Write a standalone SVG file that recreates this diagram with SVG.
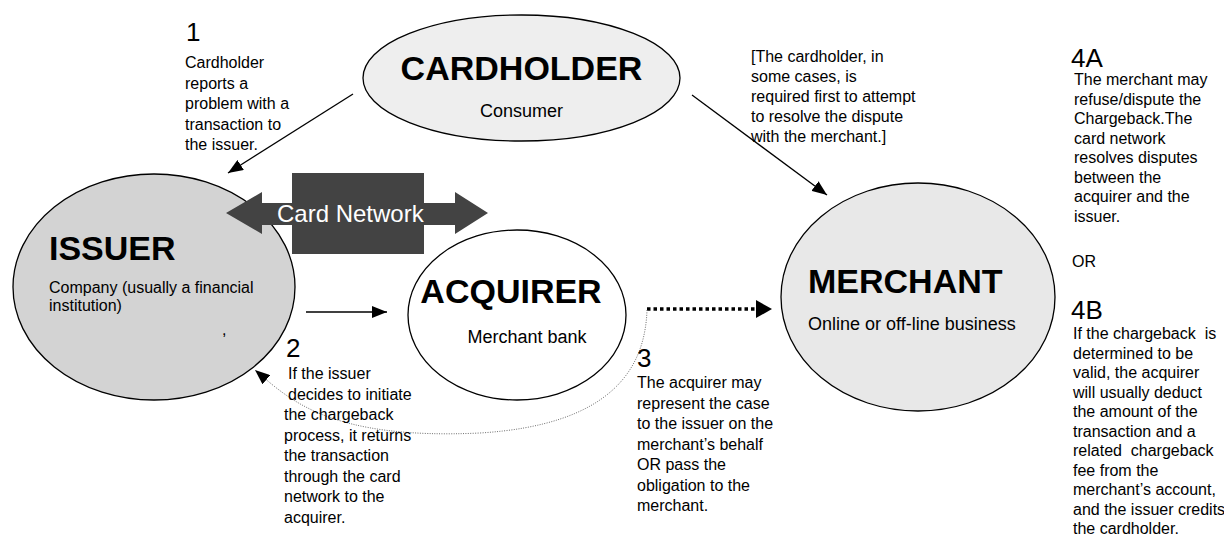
<svg xmlns="http://www.w3.org/2000/svg" width="1224" height="541" viewBox="0 0 1224 541">
  <style>
    text { font-family: "Liberation Sans", Arial, sans-serif; fill: #000; }
    .title { font-size: 34px; font-weight: bold; }
    .sub { font-size: 18px; }
    .note { font-size: 16px; }
    .num { font-size: 26px; }
    .pre { white-space: pre; }
    .node { stroke: #000; stroke-width: 1.3; }
    .link { fill: none; stroke: #000; stroke-width: 1.3; }
    .dots { fill: none; stroke: #000; stroke-width: 3.5; stroke-dasharray: 3.5 3; }
    .fine { fill: none; stroke: #6e6e6e; stroke-width: 1; stroke-dasharray: 1 1.4; }
  </style>
  <defs>
    <marker id="head" markerUnits="userSpaceOnUse" markerWidth="15" markerHeight="12" refX="15" refY="6" orient="auto">
      <path d="M0,0 L15,6 L0,12 z" fill="#000"/>
    </marker>
  </defs>

  <!-- Cardholder -->
  <g id="cardholder">
    <ellipse class="node" cx="521.5" cy="78" rx="158.5" ry="63" fill="#eeeeee"/>
    <text class="title" x="521.5" y="80" text-anchor="middle">CARDHOLDER</text>
    <text class="sub" x="521.5" y="117" text-anchor="middle">Consumer</text>
  </g>

  <!-- Issuer -->
  <g id="issuer">
    <ellipse class="node" cx="154" cy="287" rx="141" ry="113" fill="#d3d3d3"/>
    <text class="title" x="49" y="260">ISSUER</text>
    <text class="note" x="49" y="293">Company (usually a financial</text>
    <text class="note" x="49" y="311">institution)</text>
    <text class="note" x="222" y="335">,</text>
  </g>

  <!-- Acquirer -->
  <g id="acquirer">
    <ellipse class="node" cx="517" cy="315" rx="109" ry="85" fill="#ffffff"/>
    <text class="title" x="511" y="303" text-anchor="middle">ACQUIRER</text>
    <text class="sub" x="527" y="343" text-anchor="middle">Merchant bank</text>
  </g>

  <!-- Merchant -->
  <g id="merchant">
    <ellipse class="node" cx="918" cy="297" rx="137" ry="114" fill="#e8e8e8"/>
    <text class="title" x="808" y="293">MERCHANT</text>
    <text class="sub" x="808" y="330">Online or off-line business</text>
  </g>

  <!-- Card network: block with a double-headed arrow -->
  <g id="card-network">
    <rect x="292" y="173" width="132" height="81" fill="#434343"/>
    <polygon points="226,213 262,192 262,203 455,203 455,192 488,213 455,234 455,225 262,225 262,234" fill="#434343"/>
    <text x="277" y="222" font-size="24" style="fill:#ffffff">Card Network</text>
  </g>

  <!-- Connectors -->
  <g id="connectors">
    <line class="link" x1="353" y1="94" x2="228" y2="173" marker-end="url(#head)"/>
    <line class="link" x1="692" y1="95" x2="827" y2="195" marker-end="url(#head)"/>
    <line class="link" x1="306" y1="312" x2="387" y2="312" marker-end="url(#head)"/>
    <line class="dots" x1="647" y1="309" x2="756" y2="309"/>
    <path d="M756,300 L772,309 L756,318 z" fill="#000"/>
    <path class="fine" d="M647,310 C645,370 610,425 480,433 C330,440 290,400 255,370" marker-end="url(#head)"/>
  </g>

  <!-- Step notes -->
  <g id="note-1">
    <text class="num" x="186" y="41">1</text>
    <text class="note" x="185" y="68">Cardholder</text>
    <text class="note" x="185" y="88.5">reports a</text>
    <text class="note" x="185" y="109">problem with a</text>
    <text class="note" x="185" y="129.5">transaction to</text>
    <text class="note" x="185" y="150">the issuer.</text>
  </g>

  <g id="note-cardholder">
    <text class="note" x="751" y="62">[The cardholder, in</text>
    <text class="note" x="751" y="82">some cases, is</text>
    <text class="note" x="751" y="102">required first to attempt</text>
    <text class="note" x="751" y="122">to resolve the dispute</text>
    <text class="note" x="751" y="142">with the merchant.]</text>
  </g>

  <g id="note-2">
    <text class="num" x="286" y="357">2</text>
    <text class="note" x="288" y="379"> If the issuer</text>
    <text class="note" x="288" y="399.5"> decides to initiate</text>
    <text class="note" x="284" y="420">the chargeback</text>
    <text class="note" x="284" y="440.5">process, it returns</text>
    <text class="note" x="284" y="461">the transaction</text>
    <text class="note" x="284" y="481.5">through the card</text>
    <text class="note" x="284" y="502">network to the</text>
    <text class="note" x="284" y="522.5">acquirer.</text>
  </g>

  <g id="note-3">
    <text class="num" x="637" y="367">3</text>
    <text class="note" x="637" y="388">The acquirer may</text>
    <text class="note" x="637" y="408.5">represent the case</text>
    <text class="note" x="637" y="429">to the issuer on the</text>
    <text class="note" x="637" y="449.5">merchant’s behalf</text>
    <text class="note" x="637" y="470">OR pass the</text>
    <text class="note" x="637" y="490.5">obligation to the</text>
    <text class="note" x="637" y="511">merchant.</text>
  </g>

  <g id="note-4a">
    <text class="num" x="1071" y="67">4A</text>
    <text class="note" x="1074" y="85">The merchant may</text>
    <text class="note" x="1074" y="104.5">refuse/dispute the</text>
    <text class="note" x="1074" y="124">Chargeback.The</text>
    <text class="note" x="1074" y="143.5">card network</text>
    <text class="note" x="1074" y="163">resolves disputes</text>
    <text class="note" x="1074" y="182.5">between the</text>
    <text class="note" x="1074" y="202">acquirer and the</text>
    <text class="note" x="1074" y="221.5">issuer.</text>
    <text class="note" x="1072" y="267">OR</text>
  </g>

  <g id="note-4b">
    <text class="num" x="1071" y="319">4B</text>
    <text class="note pre" x="1073" y="339">If the chargeback  is</text>
    <text class="note" x="1073" y="358.5">determined to be</text>
    <text class="note" x="1073" y="378">valid, the acquirer</text>
    <text class="note" x="1073" y="397.5">will usually deduct</text>
    <text class="note" x="1073" y="417">the amount of the</text>
    <text class="note" x="1073" y="436.5">transaction and a</text>
    <text class="note pre" x="1073" y="456">related  chargeback</text>
    <text class="note" x="1073" y="475.5">fee from the</text>
    <text class="note" x="1073" y="495">merchant’s account,</text>
    <text class="note" x="1073" y="514.5">and the issuer credits</text>
    <text class="note" x="1073" y="534">the cardholder.</text>
  </g>
</svg>
